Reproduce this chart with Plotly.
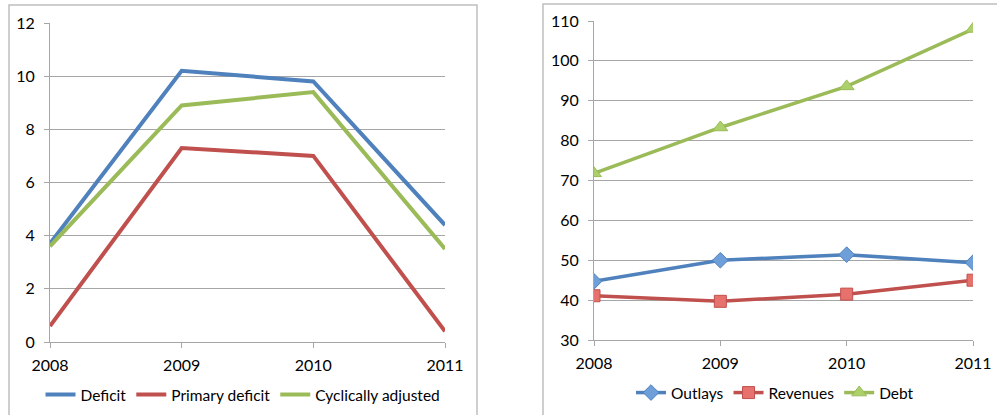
import plotly.graph_objects as go

# Fiscal indicators, percent of GDP
years = [2008, 2009, 2010, 2011]

deficit = [3.7, 10.2, 9.8, 4.4]
primary_deficit = [0.6, 7.3, 7.0, 0.4]
cyclically_adjusted = [3.6, 8.9, 9.4, 3.5]

outlays = [44.7, 50.0, 51.4, 49.4]
revenues = [41.1, 39.7, 41.5, 45.0]
debt = [71.8, 83.3, 93.6, 108.0]

W, H = 997, 415
BLUE = "#4F81BD"
RED = "#C0504D"
GREEN = "#9BBB59"
GRID = "#a6a6a6"
FONT = dict(family="Lato, 'Open Sans', sans-serif", size=16, color="#000000")
LEGEND_FONT = dict(family="Lato, 'Open Sans', sans-serif", size=15.5, color="#000000")


def px(x):
    return x / W


def py(y):
    return 1 - y / H


fig = go.Figure()

# Left panel: deficits
for name, vals, col in [("Deficit", deficit, BLUE),
                        ("Primary deficit", primary_deficit, RED),
                        ("Cyclically adjusted", cyclically_adjusted, GREEN)]:
    fig.add_trace(go.Scatter(x=years, y=vals, name=name, mode="lines",
                             line=dict(color=col, width=4),
                             xaxis="x", yaxis="y", legend="legend"))

# Right panel: outlays, revenues, debt
for name, vals, col, fill, sym, size in [
        ("Outlays", outlays, BLUE, "#6f9fd8", "diamond", 12),
        ("Revenues", revenues, RED, "#e6716d", "square", 12),
        ("Debt", debt, GREEN, "#acd06a", "triangle-up", 13)]:
    fig.add_trace(go.Scatter(x=years, y=vals, name=name, mode="lines+markers",
                             line=dict(color=col, width=3.5),
                             marker=dict(symbol=sym, size=size, color=fill,
                                         line=dict(color=col, width=1)),
                             xaxis="x2", yaxis="y2", legend="legend2"))

xcommon = dict(tickvals=years, ticktext=[str(y) for y in years], showgrid=False,
               showline=True, linecolor=GRID, linewidth=1, ticks="outside",
               ticklen=5, tickcolor=GRID, tickfont=FONT, zeroline=False,
               fixedrange=True, automargin=False, ticklabelstandoff=4)
ycommon = dict(showgrid=True, gridcolor=GRID, gridwidth=1, showline=True,
               linecolor=GRID, linewidth=1, ticks="outside", ticklen=5,
               tickcolor=GRID, tickfont=FONT, zeroline=False, fixedrange=True,
               automargin=False, ticklabelstandoff=6)

fig.update_layout(
    width=W, height=H, autosize=False,
    margin=dict(l=0, r=0, t=0, b=0, autoexpand=False),
    paper_bgcolor="white", plot_bgcolor="white",
    font=FONT,
    xaxis=dict(domain=[px(50), px(445)], range=[2008, 2011], anchor="y", **xcommon),
    yaxis=dict(domain=[py(342), py(23)], range=[0, 12], dtick=2, anchor="x", **ycommon),
    xaxis2=dict(domain=[px(594), px(973)], range=[2008, 2011], anchor="y2", **xcommon),
    yaxis2=dict(domain=[py(340), py(21)], range=[30, 110], dtick=10, anchor="x2", **ycommon),
    legend=dict(orientation="h", x=px(243), y=py(395), xanchor="center", yanchor="middle",
                font=LEGEND_FONT, bgcolor="rgba(0,0,0,0)", itemwidth=30),
    legend2=dict(orientation="h", x=px(775), y=py(393), xanchor="center", yanchor="middle",
                 font=LEGEND_FONT, bgcolor="rgba(0,0,0,0)", itemwidth=30),
    shapes=[
        dict(type="rect", xref="paper", yref="paper", x0=px(9), x1=px(477),
             y0=py(430), y1=py(5), line=dict(color="#bfbfbf", width=1.5), layer="below"),
        dict(type="rect", xref="paper", yref="paper", x0=px(543), x1=px(1010),
             y0=py(430), y1=py(4), line=dict(color="#bfbfbf", width=1.5), layer="below"),
    ],
)

fig.write_html("out.html")
